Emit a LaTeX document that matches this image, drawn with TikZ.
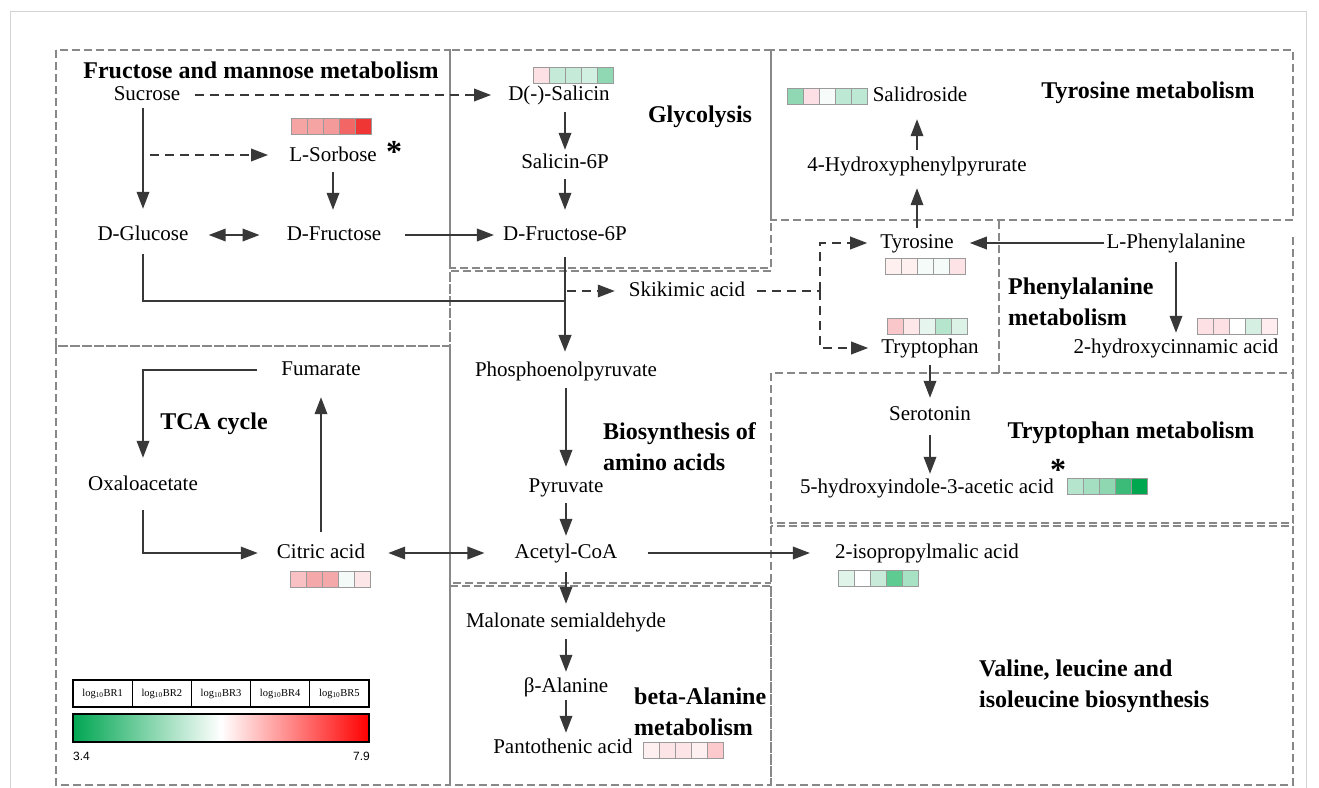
\documentclass[tikz,border=0pt]{standalone}
\usepackage{fontspec}
\setmainfont{Liberation Serif}
\newfontfamily\legsans{Liberation Sans}
\usetikzlibrary{arrows.meta,calc}
\definecolor{boxgray}{HTML}{888888}
\definecolor{conn}{HTML}{383838}
\definecolor{framegray}{HTML}{D4D4D4}
\definecolor{lgreen}{HTML}{00A651}
\definecolor{cellborder}{HTML}{9A9A9A}
\tikzset{
  pathbox/.style={draw=boxgray, line width=2.6pt, dash pattern=on 8pt off 4pt},
  lab/.style={font=\fontsize{21}{23}\selectfont, inner sep=2pt, text height=14pt, text depth=4pt},
  ttl/.style={font=\fontsize{24}{31}\selectfont\bfseries, inner sep=0pt, align=left},
  arr/.style={draw=conn, line width=1.9pt, -{Triangle[length=17pt,width=12.5pt]}},
  darr/.style={arr, dash pattern=on 9pt off 6pt},
  dbl/.style={draw=conn, line width=1.9pt, {Triangle[length=17pt,width=12.5pt]}-{Triangle[length=17pt,width=12.5pt]}},
  ln/.style={draw=conn, line width=1.9pt},
  astx/.style={font=\fontsize{32}{32}\selectfont\bfseries, inner sep=0pt, anchor=base},
  legcell/.style={font=\fontsize{10.5}{12}\selectfont, inner sep=0pt},
  legnum/.style={font=\legsans\fontsize{12}{13}\selectfont, inner sep=0pt},
}
\newcommand{\hstrip}[3]{%
  \foreach \c [count=\i from 0] in {#3} {
    \definecolor{cellc}{HTML}{\c}
    \filldraw[fill=cellc, draw=cellborder, line width=0.7pt] ({#1+16*\i},#2) rectangle ++(16,16);
  }%
}
\begin{document}
\begin{tikzpicture}[x=1pt,y=-1pt]
\useasboundingbox (0,0) rectangle (1319,787);
\fill[white] (0,0) rectangle (1319,787);
\draw[framegray, line width=1pt] (10,11) rectangle (1306,800);

% pathway boxes
\draw[pathbox] (56,50) rectangle (450,346);
\draw[pathbox] (450,50) rectangle (771,268);
\draw[pathbox] (771,50) rectangle (1293,220);
\draw[pathbox] (999,221) -- (999,373);
\draw[pathbox] (1293,237) -- (1293,373);
\draw[pathbox] (771,373) rectangle (1293,523);
\draw[pathbox] (771,526) rectangle (1293,785);
\draw[pathbox] (771,271) -- (450,271) -- (450,583) -- (771,583);
\draw[pathbox] (450,586) rectangle (771,785);
\draw[pathbox] (56,346) rectangle (450,785);

% titles
\node[ttl] (t1) at (261,70) {Fructose and mannose metabolism};
\node[ttl] (t2) at (700,117) {Glycolysis};
\node[ttl] (t3) at (1148,93) {Tyrosine metabolism};
\node[ttl, anchor=west] (t4) at (1008,302) {Phenylalanine\\metabolism};
\node[ttl] (t5) at (214,424) {TCA cycle};
\node[ttl, anchor=west] (t6) at (603,447) {Biosynthesis of\\amino acids};
\node[ttl] (t7) at (1131,433) {Tryptophan metabolism};
\node[ttl, anchor=west] (t8) at (634,712) {beta-Alanine\\metabolism};
\node[ttl, anchor=west] (t9) at (979,686) {Valine, leucine and\\isoleucine biosynthesis};

% metabolites
\node[lab] (sucrose) at (147,95) {Sucrose};
\node[lab] (sorbose) at (333,156) {L-Sorbose};
\node[lab] (glucose) at (143,235) {D-Glucose};
\node[lab] (fructose) at (334,235) {D-Fructose};
\node[lab] (salicin) at (559,95) {D(-)-Salicin};
\node[lab] (sal6p) at (565,163) {Salicin-6P};
\node[lab] (fru6p) at (565,235) {D-Fructose-6P};
\node[lab] (salid) at (920,96) {Salidroside};
\node[lab] (hpp) at (917,166) {4-Hydroxyphenylpyrurate};
\node[lab] (tyr) at (917,243) {Tyrosine};
\node[lab] (phe) at (1176,243) {L-Phenylalanine};
\node[lab] (skik) at (687,291) {Skikimic acid};
\node[lab] (trp) at (930,348) {Tryptophan};
\node[lab] (hca) at (1176,348) {2-hydroxycinnamic acid};
\node[lab] (pep) at (566,371) {Phosphoenolpyruvate};
\node[lab] (fum) at (321,370) {Fumarate};
\node[lab] (oxa) at (143,485) {Oxaloacetate};
\node[lab] (sero) at (930,415) {Serotonin};
\node[lab] (hiaa) at (927,488) {5-hydroxyindole-3-acetic acid};
\node[lab] (pyr) at (566,487) {Pyruvate};
\node[lab] (cit) at (321,553) {Citric acid};
\node[lab] (acoa) at (566,553) {Acetyl-CoA};
\node[lab] (ipm) at (927,553) {2-isopropylmalic acid};
\node[lab] (mal) at (566,622) {Malonate semialdehyde};
\node[lab] (bala) at (566,687) {β-Alanine};
\node[lab] (panto) at (563,748) {Pantothenic acid};

% asterisks
\node[astx] (ast1) at (394,162) {*};
\node[astx] (ast2) at (1058,480) {*};

% heat strips
\hstrip{291}{118}{F5A3A3,F5A3A3,F59A9A,F26666,F03535}
\hstrip{533}{67}{FDE0E3,C5EAD8,C5EAD8,D2F0E1,8FD8B3}
\hstrip{787}{88}{8FD8B3,FDE0E6,F7FBF9,BDE8D3,BDE8D3}
\hstrip{885}{258}{FFF0F0,FFF0F0,F5FBF8,F5FBF8,FDE3E6}
\hstrip{887}{318}{F9C7CA,FDE7E9,E6F5EE,B5E5CC,DDF2E7}
\hstrip{1197}{318}{FDE0E3,FDE0E3,FFFFFF,D5F0E2,FFEDEF}
\hstrip{1067}{478}{B5E5CC,A5DFC1,8FD7B1,3CBA78,00A74F}
\hstrip{838}{570}{E0F4EA,FFFFFF,C8EBD9,5ECB91,A8E2C4}
\hstrip{290}{571}{F9C1C3,F5A8AA,F5A8AA,F4FAF7,FDE6E8}
\hstrip{643}{742}{FEF0F1,FDE5E7,FDE5E7,FEF0F1,FCCACD}

% connectors: fructose & mannose / glycolysis
\draw[arr, shorten <=2pt, shorten >=15pt] (sucrose.south -| glucose) -- (glucose.north);
\draw[darr, shorten <=13pt, shorten >=15pt] (sucrose.east) -- (sucrose.east -| salicin.west);
\coordinate (sd) at (150,155);
\draw[darr, shorten >=19pt] (sd) -- (sd -| sorbose.west);
\draw[arr, shorten <=5pt, shorten >=14pt] (sorbose.south) -- (sorbose.south |- fructose.north);
\draw[dbl, shorten <=18pt, shorten >=25pt] (glucose.east) -- (fructose.west);
\draw[arr, shorten <=22pt, shorten >=7pt] (fructose.east) -- (fru6p.west);
\draw[arr, shorten <=6pt, shorten >=2pt] (sal6p |- salicin.south) -- (sal6p.north);
\draw[arr, shorten <=5pt, shorten >=14pt] (sal6p.south) -- (fru6p.north);
\draw[arr, line width=2.8pt, shorten <=11pt, shorten >=8pt] (fru6p.south) -- (fru6p.south |- pep.north);
\coordinate (j1) at (565,301);
\draw[ln, shorten <=8pt] (glucose.south) |- (j1);

% shikimate branch
\coordinate (j2) at (567,291);
\draw[darr, shorten >=12pt] (j2) -- (skik.west);
\coordinate (br) at (820,291);
\draw[ln, dash pattern=on 9pt off 6pt, shorten <=10pt] (skik.east) -- (br);
\draw[darr, shorten >=11pt] (br) |- (tyr.west);
\draw[darr, shorten >=11pt] (br) |- (trp.west);

% tyrosine / phenylalanine / tryptophan
\draw[arr, shorten >=14pt] (phe.west) -- (tyr.east);
\draw[arr, shorten <=4pt, shorten >=11pt] (tyr.north) -- (hpp.south);
\draw[arr, shorten <=5pt, shorten >=12pt] (hpp.north) -- (hpp.north |- salid.south);
\draw[arr, shorten <=8pt, shorten >=4pt] (phe.south) -- (hca.north);
\draw[arr, shorten <=6pt, shorten >=6pt] (trp.south) -- (sero.north);
\draw[arr, shorten <=9pt, shorten >=3pt] (sero.south) -- (sero.south |- hiaa.north);

% TCA cycle
\draw[arr, shorten <=22pt, shorten >=16pt] (fum.west) -| (oxa.north);
\draw[arr, shorten <=14pt, shorten >=17pt] (oxa.south) |- (cit.west);
\draw[arr, shorten <=10pt, shorten >=16pt] (cit.north) -- (fum.south);
\draw[dbl, shorten <=21pt, shorten >=28pt] (cit.east) -- (acoa.west);

% amino acid / beta-alanine
\draw[arr, shorten <=6pt, shorten >=9pt] (pep.south) -- (pyr.north);
\draw[arr, shorten <=5pt, shorten >=6pt] (pyr.south) -- (acoa.north);
\draw[arr, shorten <=28pt, shorten >=23pt] (acoa.east) -- (ipm.west);
\draw[arr, shorten <=8pt, shorten >=7pt] (acoa.south) -- (mal.north);
\draw[arr, shorten <=6pt, shorten >=4pt] (mal.south) -- (bala.north);
\draw[arr, shorten <=2pt, shorten >=4pt] (bala.south) -- (bala.south |- panto.north);

% legend
\draw[line width=1.2pt] (73,680) rectangle (369,707);
\foreach \i in {1,...,4} \draw[line width=1.2pt] ({73+59.2*\i},680) -- ({73+59.2*\i},707);
\foreach \i in {1,...,5} \node[legcell] (lg\i) at ({73+59.2*(\i-0.5)},693.5) {log\textsubscript{10}BR\i};
\shade[left color=lgreen, right color=red, middle color=white] (73,714) rectangle (369,742);
\draw[line width=1.2pt] (73,714) rectangle (369,742);
\node[legnum, anchor=west] (l34) at (73,756) {3.4};
\node[legnum, anchor=east] (l79) at (370,756) {7.9};
\end{tikzpicture}
\end{document}
